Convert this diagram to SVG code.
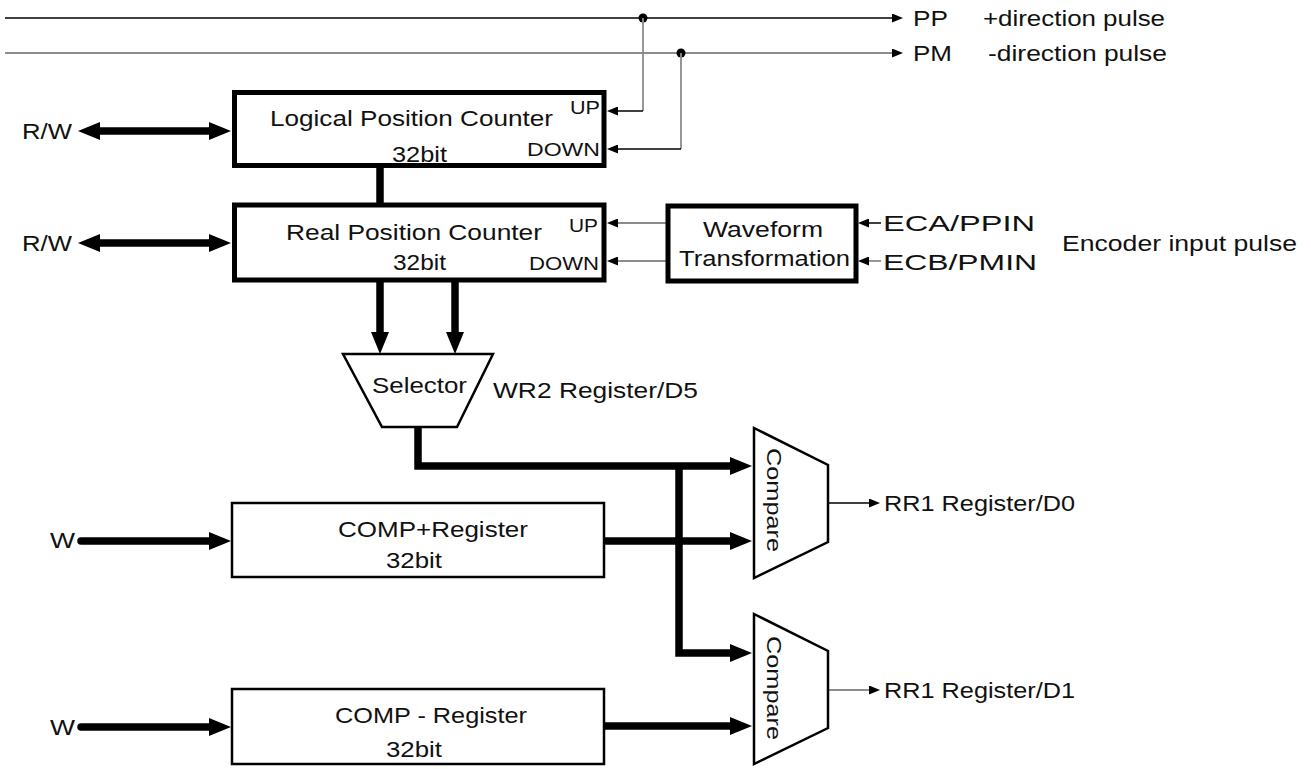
<svg xmlns="http://www.w3.org/2000/svg" width="1311" height="769" viewBox="0 0 1311 769">
<style>
  text { font-family: "Liberation Sans", Arial, sans-serif; font-size: 22px; fill: #111; }
  .sm { font-size: 18px; }
  .box { fill: #fff; stroke: #000; stroke-width: 5; }
  .reg { fill: #fff; stroke: #000; stroke-width: 2.5; }
  .shape { fill: #fff; stroke: #000; stroke-width: 2.5; stroke-linejoin: miter; }
  .thick { fill: none; stroke: #000; stroke-width: 7.5; }
  .thin { fill: none; stroke: #000; stroke-width: 1.5; }
  .gray { fill: none; stroke: #8c8c8c; stroke-width: 1.8; }
</style>
<defs>
  <marker id="ah" markerUnits="userSpaceOnUse" markerWidth="22" markerHeight="18" refX="0" refY="9" orient="auto-start-reverse" viewBox="0 0 22 18">
    <path d="M0,0 L22,9 L0,18 z" fill="#000"/>
  </marker>
  <marker id="at" markerUnits="userSpaceOnUse" markerWidth="11" markerHeight="9" refX="0" refY="4.5" orient="auto" viewBox="0 0 11 9">
    <path d="M0,0 L11,4.5 L0,9 z" fill="#000"/>
  </marker>
</defs>
<rect width="1311" height="769" fill="#fff"/>

<g id="connectors">
  <!-- top pulse lines -->
  <line class="thin" x1="5" y1="18" x2="892" y2="18" marker-end="url(#at)"/>
  <line class="gray" x1="5" y1="53" x2="892" y2="53" marker-end="url(#at)"/>
  <circle cx="643" cy="18" r="4.5" fill="#000"/>
  <circle cx="681" cy="53" r="4.5" fill="#000"/>
  <polyline class="gray" points="643,18 643,111"/>
  <line class="thin" x1="643" y1="111" x2="618" y2="111" marker-end="url(#at)"/>
  <polyline class="gray" points="681,53 681,149"/>
  <line class="thin" x1="681" y1="149" x2="618" y2="149" marker-end="url(#at)"/>
  <!-- R/W double arrows -->
  <line class="thick" x1="100" y1="131" x2="209" y2="131" marker-start="url(#ah)" marker-end="url(#ah)"/>
  <line class="thick" x1="100" y1="243" x2="209" y2="243" marker-start="url(#ah)" marker-end="url(#ah)"/>
  <!-- Logical to Real -->
  <line class="thick" x1="380" y1="167" x2="380" y2="204"/>
  <!-- Waveform to Real -->
  <line class="gray" x1="666" y1="223" x2="618" y2="223" marker-end="url(#at)"/>
  <line class="gray" x1="666" y1="261" x2="618" y2="261" marker-end="url(#at)"/>
  <!-- encoder inputs -->
  <line class="thin" x1="881" y1="223" x2="869" y2="223" marker-end="url(#at)"/>
  <line class="gray" x1="881" y1="261" x2="869" y2="261" marker-end="url(#at)"/>
  <!-- Real to Selector -->
  <line class="thick" x1="380" y1="280" x2="380" y2="332" marker-end="url(#ah)"/>
  <line class="thick" x1="455" y1="280" x2="455" y2="332" marker-end="url(#ah)"/>
  <!-- Selector to compares -->
  <polyline class="thick" points="418,427 418,466 730,466" marker-end="url(#ah)"/>
  <polyline class="thick" points="679,466 679,653 730,653" marker-end="url(#ah)"/>
  <!-- COMP registers to compares -->
  <line class="thick" x1="604" y1="541" x2="730" y2="541" marker-end="url(#ah)"/>
  <line class="thick" x1="604" y1="726" x2="730" y2="726" marker-end="url(#ah)"/>
  <!-- W inputs -->
  <line class="thick" x1="81" y1="541" x2="209" y2="541" stroke-linecap="round" marker-end="url(#ah)"/>
  <line class="thick" x1="81" y1="727" x2="209" y2="727" stroke-linecap="round" marker-end="url(#ah)"/>
  <!-- compare outputs -->
  <line class="thin" x1="828" y1="503" x2="869" y2="503" marker-end="url(#at)"/>
  <line class="gray" x1="828" y1="690" x2="869" y2="690" marker-end="url(#at)"/>
</g>

<g id="labels">
  <text x="913" y="26" textLength="35" lengthAdjust="spacingAndGlyphs">PP</text>
  <text x="983" y="26" textLength="182" lengthAdjust="spacingAndGlyphs">+direction pulse</text>
  <text x="913" y="61" textLength="39" lengthAdjust="spacingAndGlyphs">PM</text>
  <text x="988" y="61" textLength="179" lengthAdjust="spacingAndGlyphs">-direction pulse</text>
  <text x="22" y="139" textLength="50" lengthAdjust="spacingAndGlyphs">R/W</text>
  <text x="22" y="251" textLength="50" lengthAdjust="spacingAndGlyphs">R/W</text>
  <text x="883" y="231" textLength="152" lengthAdjust="spacingAndGlyphs">ECA/PPIN</text>
  <text x="883" y="270" textLength="154" lengthAdjust="spacingAndGlyphs">ECB/PMIN</text>
  <text x="1062" y="251" textLength="235" lengthAdjust="spacingAndGlyphs">Encoder input pulse</text>
  <text x="493" y="398" textLength="205" lengthAdjust="spacingAndGlyphs">WR2 Register/D5</text>
  <text x="50" y="548" textLength="25" lengthAdjust="spacingAndGlyphs">W</text>
  <text x="50" y="735" textLength="25" lengthAdjust="spacingAndGlyphs">W</text>
  <text x="884" y="511" textLength="191" lengthAdjust="spacingAndGlyphs">RR1 Register/D0</text>
  <text x="884" y="698" textLength="191" lengthAdjust="spacingAndGlyphs">RR1 Register/D1</text>
</g>

<g id="logical-counter">
  <rect class="box" x="234.5" y="92.5" width="369.5" height="73"/>
  <text x="270" y="126" textLength="283" lengthAdjust="spacingAndGlyphs">Logical Position Counter</text>
  <text x="392" y="162" textLength="55" lengthAdjust="spacingAndGlyphs">32bit</text>
  <text class="sm" x="570" y="114" textLength="30" lengthAdjust="spacingAndGlyphs">UP</text>
  <text class="sm" x="527" y="156" textLength="73" lengthAdjust="spacingAndGlyphs">DOWN</text>
</g>

<g id="real-counter">
  <rect class="box" x="234.5" y="205" width="369.5" height="75"/>
  <text x="286" y="240" textLength="256" lengthAdjust="spacingAndGlyphs">Real Position Counter</text>
  <text x="393" y="270" textLength="53" lengthAdjust="spacingAndGlyphs">32bit</text>
  <text class="sm" x="569" y="232" textLength="29" lengthAdjust="spacingAndGlyphs">UP</text>
  <text class="sm" x="529" y="270" textLength="70" lengthAdjust="spacingAndGlyphs">DOWN</text>
</g>

<g id="waveform">
  <rect class="box" x="668" y="206" width="188" height="75"/>
  <text x="703" y="237" textLength="120" lengthAdjust="spacingAndGlyphs">Waveform</text>
  <text x="679" y="266" textLength="171" lengthAdjust="spacingAndGlyphs">Transformation</text>
</g>

<g id="selector">
  <polygon class="shape" points="343,354 493,354 457,427 382,427"/>
  <text x="372" y="393" textLength="95" lengthAdjust="spacingAndGlyphs">Selector</text>
</g>

<g id="comp-plus">
  <rect class="reg" x="232" y="503" width="372" height="74"/>
  <text x="338" y="537" textLength="190" lengthAdjust="spacingAndGlyphs">COMP+Register</text>
  <text x="386" y="568" textLength="56" lengthAdjust="spacingAndGlyphs">32bit</text>
</g>

<g id="comp-minus">
  <rect class="reg" x="232" y="689" width="372" height="75"/>
  <text x="335" y="723" textLength="192" lengthAdjust="spacingAndGlyphs">COMP - Register</text>
  <text x="386" y="757" textLength="56" lengthAdjust="spacingAndGlyphs">32bit</text>
</g>

<g id="compare-1">
  <polygon class="shape" points="754,428 828,465 828,542 754,578"/>
  <text transform="translate(767,500) rotate(90)" text-anchor="middle" style="font-size:20px" textLength="104" lengthAdjust="spacingAndGlyphs">Compare</text>
</g>

<g id="compare-2">
  <polygon class="shape" points="754,614 828,651 828,728 754,764"/>
  <text transform="translate(767,688) rotate(90)" text-anchor="middle" style="font-size:20px" textLength="104" lengthAdjust="spacingAndGlyphs">Compare</text>
</g>
</svg>
